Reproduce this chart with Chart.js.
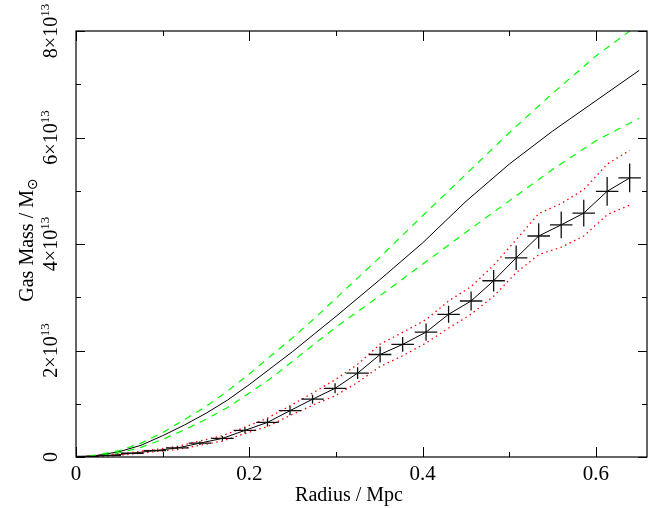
<!DOCTYPE html>
<html>
<head>
<meta charset="utf-8">
<script src="https://cdn.jsdelivr.net/npm/chart.js@4.4.0/dist/chart.umd.min.js"></script>
<style>
  html, body { margin: 0; padding: 0; background: #ffffff; }
  #wrap { width: 655px; height: 508px; position: relative; }
</style>
</head>
<body>
<div id="wrap"><canvas id="c" width="655" height="508"></canvas></div>
<script>
// ---- data (mass in units of 10^13 solar masses, radius in Mpc) ----
const modelRadius = [0, 0.025, 0.05, 0.075, 0.1, 0.125, 0.15, 0.175, 0.2, 0.225, 0.25, 0.275, 0.3, 0.35, 0.4, 0.45, 0.5, 0.55, 0.6, 0.65];
const modelMass   = [0, 0.03, 0.10, 0.22, 0.40, 0.60, 0.82, 1.07, 1.36, 1.67, 1.98, 2.31, 2.64, 3.32, 4.02, 4.80, 5.50, 6.12, 6.69, 7.26];
const modelUpper  = [0, 0.04, 0.12, 0.26, 0.46, 0.70, 0.95, 1.24, 1.56, 1.90, 2.24, 2.60, 2.98, 3.74, 4.53, 5.31, 6.09, 6.83, 7.53, 8.13];
const modelLower  = [0, 0.02, 0.08, 0.18, 0.33, 0.51, 0.71, 0.93, 1.20, 1.48, 1.80, 2.12, 2.44, 3.02, 3.62, 4.22, 4.81, 5.40, 5.94, 6.36];

const binRadius = [0.013, 0.039, 0.065, 0.091, 0.117, 0.143, 0.169, 0.195, 0.221, 0.247, 0.273, 0.299, 0.325,
                   0.351, 0.377, 0.404, 0.430, 0.456, 0.482, 0.508, 0.534, 0.560, 0.586, 0.613, 0.639];
const gasMass   = [0.01, 0.03, 0.07, 0.12, 0.17, 0.26, 0.35, 0.50, 0.65, 0.87, 1.085, 1.29, 1.575,
                   1.925, 2.115, 2.345, 2.68, 2.93, 3.31, 3.74, 4.15, 4.36, 4.58, 4.99, 5.24];
const gasMassErr = [0.005, 0.01, 0.015, 0.02, 0.025, 0.035, 0.045, 0.055, 0.075, 0.085, 0.085, 0.095, 0.11,
                    0.15, 0.14, 0.16, 0.16, 0.18, 0.20, 0.23, 0.24, 0.25, 0.25, 0.27, 0.27];
const binHalfWidth = 0.013;
const gasUpper  = [0.015, 0.045, 0.085, 0.14, 0.20, 0.30, 0.40, 0.56, 0.73, 0.96, 1.20, 1.45, 1.74,
                   2.12, 2.34, 2.58, 2.93, 3.20, 3.60, 4.08, 4.57, 4.76, 5.02, 5.50, 5.76];
const gasLower  = [0.005, 0.02, 0.055, 0.10, 0.14, 0.22, 0.30, 0.44, 0.57, 0.78, 0.97, 1.15, 1.40,
                   1.70, 1.90, 2.14, 2.42, 2.68, 3.02, 3.46, 3.80, 3.94, 4.15, 4.55, 4.73];

const xTickValues = [0, 0.1, 0.2, 0.3, 0.4, 0.5, 0.6];
const xLabelValues = [0, 0.2, 0.4, 0.6];
const xLabelTexts  = ['0', '0.2', '0.4', '0.6'];
const yTickValues = [0, 1, 2, 3, 4, 5, 6, 7, 8];
const yLabelValues = [0, 2, 4, 6, 8];
const yLabelMantissa = ['0', '2', '4', '6', '8'];
const yLabelExponent = '13';

const xTitle = 'Radius / Mpc';
const yTitle = 'Gas Mass / M';
const yTitleSub = '\u2299';

const xMax = 0.659, yMax = 8;

function pts(xs, ys) { return xs.map((x, i) => ({ x: x, y: ys[i] })); }

const FONT = '"Liberation Serif", "DejaVu Serif", serif';

const framePlugin = {
  id: 'framePlugin',
  afterDatasetsDraw(chart) {
    const ctx = chart.ctx;
    const xs = chart.scales.x, ys = chart.scales.y;
    const a = chart.chartArea;
    ctx.save();
    // error bar crosses
    ctx.strokeStyle = '#111';
    ctx.lineWidth = 1.3;
    for (let i = 0; i < binRadius.length; i++) {
      const px = xs.getPixelForValue(binRadius[i]);
      const py = ys.getPixelForValue(gasMass[i]);
      const x0 = xs.getPixelForValue(binRadius[i] - binHalfWidth);
      const x1 = xs.getPixelForValue(binRadius[i] + binHalfWidth);
      const y0 = ys.getPixelForValue(gasMass[i] - gasMassErr[i]);
      const y1 = ys.getPixelForValue(gasMass[i] + gasMassErr[i]);
      ctx.beginPath();
      ctx.moveTo(x0, py); ctx.lineTo(x1, py);
      ctx.moveTo(px, y0); ctx.lineTo(px, y1);
      ctx.stroke();
    }
    // frame
    ctx.strokeStyle = '#000';
    ctx.lineWidth = 1.2;
    ctx.strokeRect(a.left, a.top, a.right - a.left, a.bottom - a.top);
    // x ticks (inward, bottom and top)
    ctx.lineWidth = 1;
    xTickValues.forEach(v => {
      const px = Math.round(xs.getPixelForValue(v)) + 0.5;
      const major = xLabelValues.includes(v);
      const len = major ? 10 : 5;
      ctx.beginPath();
      ctx.moveTo(px, a.bottom); ctx.lineTo(px, a.bottom - len);
      ctx.moveTo(px, a.top); ctx.lineTo(px, a.top + len);
      ctx.stroke();
    });
    yTickValues.forEach(v => {
      const py = Math.round(ys.getPixelForValue(v)) + 0.5;
      const major = yLabelValues.includes(v);
      const len = major ? 9 : 5;
      ctx.beginPath();
      ctx.moveTo(a.left, py); ctx.lineTo(a.left + len, py);
      ctx.moveTo(a.right, py); ctx.lineTo(a.right - len, py);
      ctx.stroke();
    });
    // x labels
    ctx.fillStyle = '#000';
    ctx.font = '21px ' + FONT;
    ctx.textAlign = 'center';
    ctx.textBaseline = 'alphabetic';
    xLabelValues.forEach((v, i) => {
      ctx.fillText(xLabelTexts[i], xs.getPixelForValue(v), 480);
    });
    // x title
    ctx.font = '20px ' + FONT;
    ctx.fillText(xTitle, 349, 501);
    // y labels (rotated)
    yLabelValues.forEach((v, i) => {
      const py = ys.getPixelForValue(v);
      const isZero = yLabelMantissa[i] === '0';
      const main = isZero ? '0' : yLabelMantissa[i] + '\u00d710';
      ctx.save();
      ctx.translate(57, py);
      ctx.rotate(-Math.PI / 2);
      ctx.textAlign = 'left';
      ctx.font = '20px ' + FONT;
      const wMain = ctx.measureText(main).width;
      let wSup = 0;
      if (!isZero) {
        ctx.font = '13px ' + FONT;
        wSup = ctx.measureText(yLabelExponent).width;
      }
      const start = -(wMain + wSup) / 2;
      ctx.font = '20px ' + FONT;
      ctx.fillText(main, start, 0);
      if (!isZero) {
        ctx.font = '13px ' + FONT;
        ctx.fillText(yLabelExponent, start + wMain, -8);
      }
      ctx.restore();
    });
    // y title (rotated) with subscript
    ctx.save();
    ctx.translate(33, 240);
    ctx.rotate(-Math.PI / 2);
    ctx.textAlign = 'left';
    ctx.font = '20px ' + FONT;
    const wT = ctx.measureText(yTitle).width;
    ctx.font = '14px "DejaVu Sans", sans-serif';
    const wS = ctx.measureText(yTitleSub).width;
    const st = -(wT + wS) / 2;
    ctx.font = '20px ' + FONT;
    ctx.fillText(yTitle, st, 0);
    ctx.font = '14px "DejaVu Sans", sans-serif';
    ctx.fillText(yTitleSub, st + wT, 4);
    ctx.restore();
    ctx.restore();
  }
};

new Chart(document.getElementById('c'), {
  type: 'line',
  data: {
    datasets: [
      { data: pts(modelRadius, modelUpper), borderColor: '#00ff00', borderWidth: 1.2, borderDash: [7, 6], pointRadius: 0, fill: false },
      { data: pts(modelRadius, modelLower), borderColor: '#00ff00', borderWidth: 1.2, borderDash: [7, 6], pointRadius: 0, fill: false },
      { data: pts(modelRadius, modelMass), borderColor: '#000000', borderWidth: 1, pointRadius: 0, fill: false },
      { data: pts(binRadius, gasUpper), borderColor: '#ff0000', borderWidth: 1.3, borderDash: [1.5, 3.5], pointRadius: 0, fill: false },
      { data: pts(binRadius, gasLower), borderColor: '#ff0000', borderWidth: 1.3, borderDash: [1.5, 3.5], pointRadius: 0, fill: false },
      { data: pts(binRadius, gasMass), borderColor: '#000000', borderWidth: 1, pointRadius: 0, fill: false }
    ]
  },
  options: {
    responsive: false,
    animation: false,
    layout: { padding: { left: 76, right: 8, top: 31, bottom: 51 } },
    plugins: { legend: { display: false }, tooltip: { enabled: false } },
    scales: {
      x: { type: 'linear', min: 0, max: xMax, display: false },
      y: { type: 'linear', min: 0, max: yMax, display: false }
    }
  },
  plugins: [framePlugin]
});
</script>
</body>
</html>
